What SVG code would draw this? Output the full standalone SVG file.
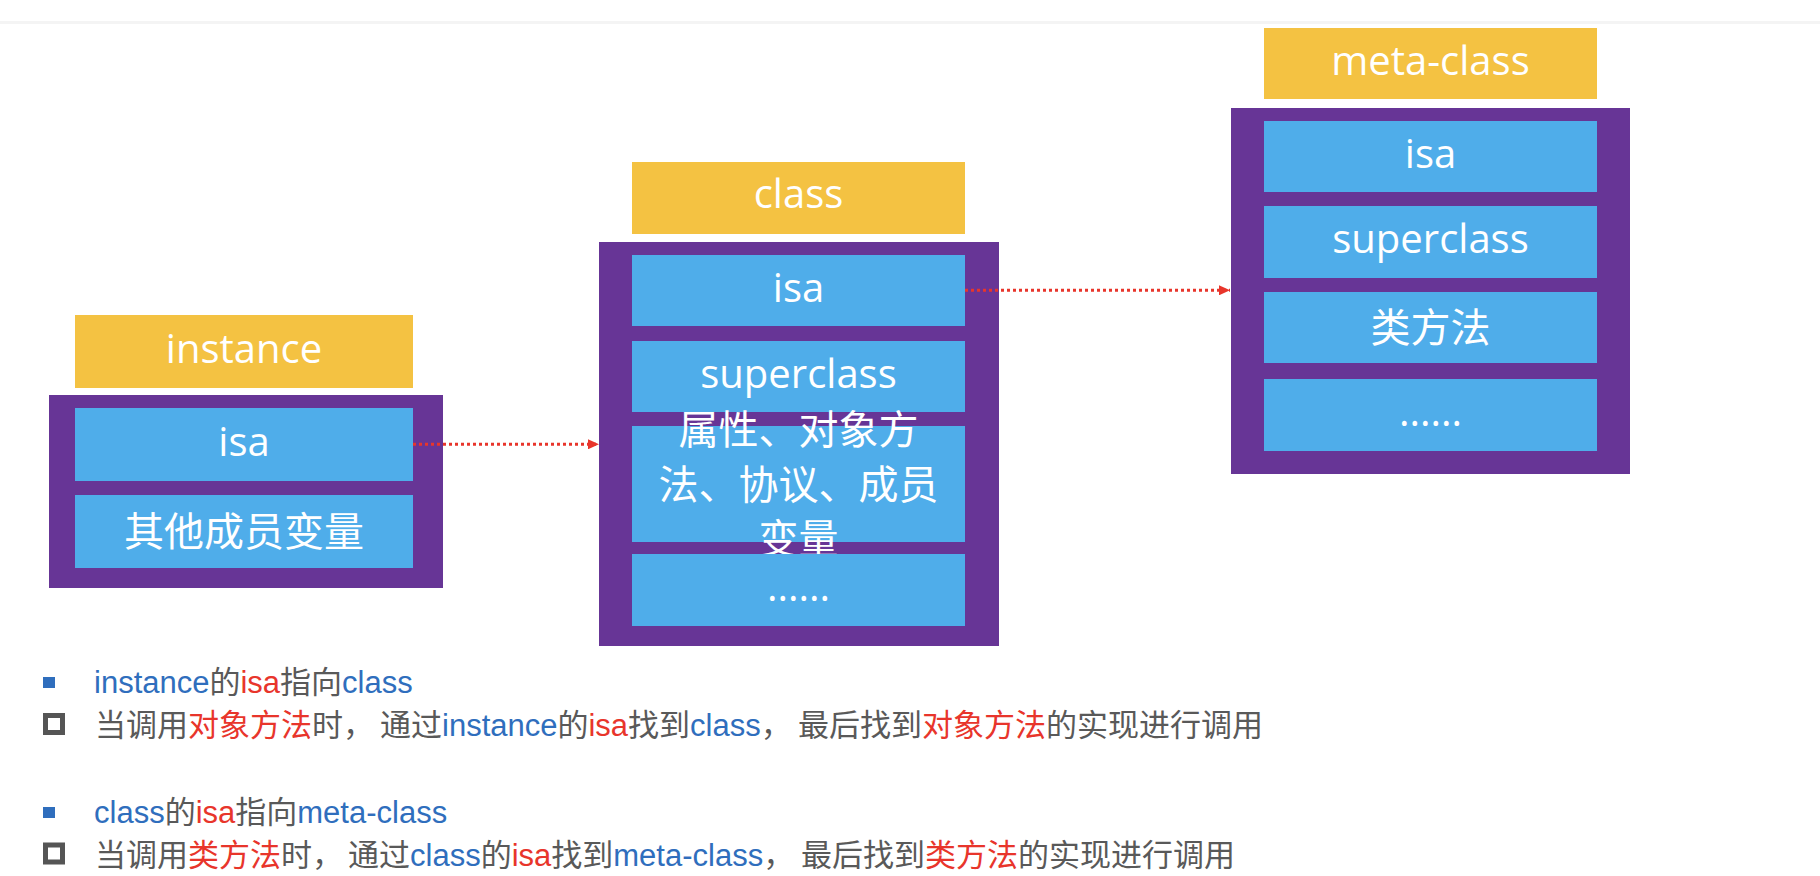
<svg xmlns="http://www.w3.org/2000/svg" width="1820" height="876" viewBox="0 0 1820 876">
<style>
.title{fill:#F4C242}
.frame{fill:#673596}
.cell{fill:#4FADEA}
.bt{font-family:"Open Sans","Noto Sans CJK SC",sans-serif;font-size:40px;fill:#ffffff;text-anchor:middle}
.note{font-family:"Liberation Sans","Noto Sans CJK SC",sans-serif;font-size:31px;fill:#595959}
.b{fill:#2F6EBD}
.r{fill:#E8352B}
.conn{stroke:#E8352B;stroke-width:3;stroke-dasharray:3 3;fill:none}
</style>
<defs>
<marker id="ah" viewBox="0 0 11 10" refX="11" refY="5" markerWidth="11" markerHeight="10" markerUnits="userSpaceOnUse" orient="auto">
<polygon points="0,0 11,5 0,10" fill="#E8352B"/>
</marker>
</defs>
<rect x="0" y="0" width="1820" height="876" fill="#ffffff"/>
<rect x="0" y="21" width="1820" height="3" fill="#F4F4F4"/>

<g id="instance">
<rect class="title" x="75" y="315" width="338" height="73"/>
<text class="bt" x="244" y="363">instance</text>
<rect class="frame" x="49" y="395" width="394" height="193"/>
<rect class="cell" x="75" y="408" width="338" height="73"/>
<text class="bt" x="244" y="456">isa</text>
<rect class="cell" x="75" y="495" width="338" height="73"/>
<text class="bt" x="244" y="545.5">其他成员变量</text>
</g>

<g id="class">
<rect class="title" x="632" y="162" width="333" height="72"/>
<text class="bt" x="798.5" y="208">class</text>
<rect class="frame" x="599" y="242" width="400" height="404"/>
<rect class="cell" x="632" y="255" width="333" height="71"/>
<text class="bt" x="798.5" y="301.5">isa</text>
<rect class="cell" x="632" y="341" width="333" height="71"/>
<text class="bt" x="798.5" y="387.5">superclass</text>
<rect class="cell" x="632" y="426" width="333" height="116"/>
<text class="bt" x="798.5" y="444">属性、对象方</text>
<text class="bt" x="798.5" y="498.5">法、协议、成员</text>
<text class="bt" x="798.5" y="553">变量</text>
<rect class="cell" x="632" y="554" width="333" height="72"/>
<text class="bt" x="798.5" y="601">......</text>
</g>

<g id="meta-class">
<rect class="title" x="1264" y="28" width="333" height="71"/>
<text class="bt" x="1430.5" y="74.5">meta-class</text>
<rect class="frame" x="1231" y="108" width="399" height="366"/>
<rect class="cell" x="1264" y="121" width="333" height="71"/>
<text class="bt" x="1430.5" y="167.5">isa</text>
<rect class="cell" x="1264" y="206" width="333" height="72"/>
<text class="bt" x="1430.5" y="253">superclass</text>
<rect class="cell" x="1264" y="292" width="333" height="71"/>
<text class="bt" x="1430.5" y="342">类方法</text>
<rect class="cell" x="1264" y="379" width="333" height="72"/>
<text class="bt" x="1430.5" y="425.5">......</text>
</g>

<g id="connectors">
<path class="conn" d="M413,444.3 H599" marker-end="url(#ah)"/>
<path class="conn" d="M965,290.3 H1230" marker-end="url(#ah)"/>
</g>

<g id="notes">
<rect x="43" y="677" width="12" height="11" fill="#2F6EBD"/>
<text class="note" x="94" y="692.7"><tspan class="b">instance</tspan>的<tspan class="r">isa</tspan>指向<tspan class="b">class</tspan></text>
<rect x="45.5" y="715.5" width="17" height="17" fill="none" stroke="#555555" stroke-width="5"/>
<text class="note" y="736"><tspan x="95">当调用</tspan><tspan class="r">对象方法</tspan><tspan>时，</tspan><tspan x="380">通过</tspan><tspan class="b">instance</tspan><tspan>的</tspan><tspan class="r">isa</tspan><tspan>找到</tspan><tspan class="b">class</tspan><tspan>，</tspan><tspan x="798">最后找到</tspan><tspan class="r">对象方法</tspan><tspan>的实现进行调用</tspan></text>
<rect x="43" y="807" width="12" height="11" fill="#2F6EBD"/>
<text class="note" x="94" y="822.7"><tspan class="b">class</tspan>的<tspan class="r">isa</tspan>指向<tspan class="b">meta-class</tspan></text>
<rect x="45.5" y="845" width="17" height="17" fill="none" stroke="#555555" stroke-width="5"/>
<text class="note" y="866"><tspan x="95">当调用</tspan><tspan class="r">类方法</tspan><tspan>时，</tspan><tspan x="348">通过</tspan><tspan class="b">class</tspan><tspan>的</tspan><tspan class="r">isa</tspan><tspan>找到</tspan><tspan class="b">meta-class</tspan><tspan>，</tspan><tspan x="801">最后找到</tspan><tspan class="r">类方法</tspan><tspan>的实现进行调用</tspan></text>
</g>
</svg>
